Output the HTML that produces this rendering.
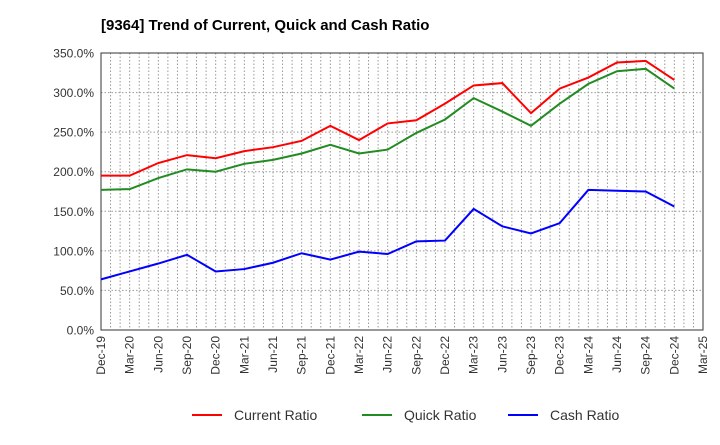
<!DOCTYPE html>
<html><head><meta charset="utf-8"><style>
body{margin:0;background:#fff;font-family:"Liberation Sans",sans-serif;}
</style></head><body>
<svg id="c" width="720" height="440" xmlns="http://www.w3.org/2000/svg">
<text x="101" y="30" font-size="15" font-weight="bold" fill="#000">[9364]  Trend of Current, Quick and Cash Ratio</text>
<g id="grid"></g><g id="axes"></g><g id="series"></g><g id="legend"></g>
</svg>
<script>
const categories=["Dec-19","Mar-20","Jun-20","Sep-20","Dec-20","Mar-21","Jun-21","Sep-21","Dec-21","Mar-22","Jun-22","Sep-22","Dec-22","Mar-23","Jun-23","Sep-23","Dec-23","Mar-24","Jun-24","Sep-24","Dec-24","Mar-25"];
const currentRatio=[195,195,211,221,217,226,231,239,258,240,261,265,286,309,312,274,305,319,338,340,316];
const quickRatio=[177,178,192,203,200,210,215,223,234,223,228,249,266,293,276,258,286,311,327,330,305];
const cashRatio=[64,74,84,95,74,77,85,97,89,99,96,112,113,153,131,122,135,177,176,175,156];
const yTicks=[0,50,100,150,200,250,300,350];
const NS="http://www.w3.org/2000/svg";
const L=101,R=703,T=53,B=330;
const xs=i=>L+(R-L)*i/(categories.length-1);
const ys=v=>B-(B-T)*v/350;
function mk(p,tag,a){const e=document.createElementNS(NS,tag);for(const k in a)e.setAttribute(k,a[k]);document.getElementById(p).appendChild(e);return e;}
// grid
for(let m=0;m<=(categories.length-1)*3;m++){const x=L+(R-L)*m/((categories.length-1)*3);
const g=mk('grid','line',{x1:x,x2:x,y1:T,y2:B,stroke:'#999','stroke-dasharray':'1.5,2','stroke-width':1});

}
yTicks.forEach(v=>{const y=ys(v);
const g=mk('grid','line',{x1:L,x2:R,y1:y,y2:y,stroke:'#999','stroke-dasharray':'1.5,2','stroke-width':1});


const t=mk('axes','text',{x:L-7,y:y+4.5,'text-anchor':'end','font-size':12,fill:'#333'});t.textContent=v.toFixed(1)+'%';

});
const fr=mk('axes','rect',{x:L,y:T,width:R-L,height:B-T,fill:'none',stroke:'#333','stroke-width':1});


categories.forEach((c,i)=>{const x=xs(i);
const t=mk('axes','text',{transform:`translate(${x+4},${B+6}) rotate(-90)`,'text-anchor':'end','font-size':12,fill:'#333'});t.textContent=c;

});
function line(d,col,name){const p=mk('series','polyline',{points:d.map((v,i)=>xs(i)+','+ys(v)).join(' '),fill:'none',stroke:col,'stroke-width':2});

}
line(currentRatio,'#f00','current-ratio-line');
line(quickRatio,'#228b22','quick-ratio-line');
line(cashRatio,'#00f','cash-ratio-line');
[["Current Ratio","#f00",192],["Quick Ratio","#228b22",362],["Cash Ratio","#00f",508]].forEach(([n,c,x])=>{
const l=mk('legend','line',{x1:x,x2:x+30,y1:415,y2:415,stroke:c,'stroke-width':2});


const t=mk('legend','text',{x:x+42,y:420,'font-size':14,fill:'#333'});t.textContent=n;

});
</script>
</body></html>
